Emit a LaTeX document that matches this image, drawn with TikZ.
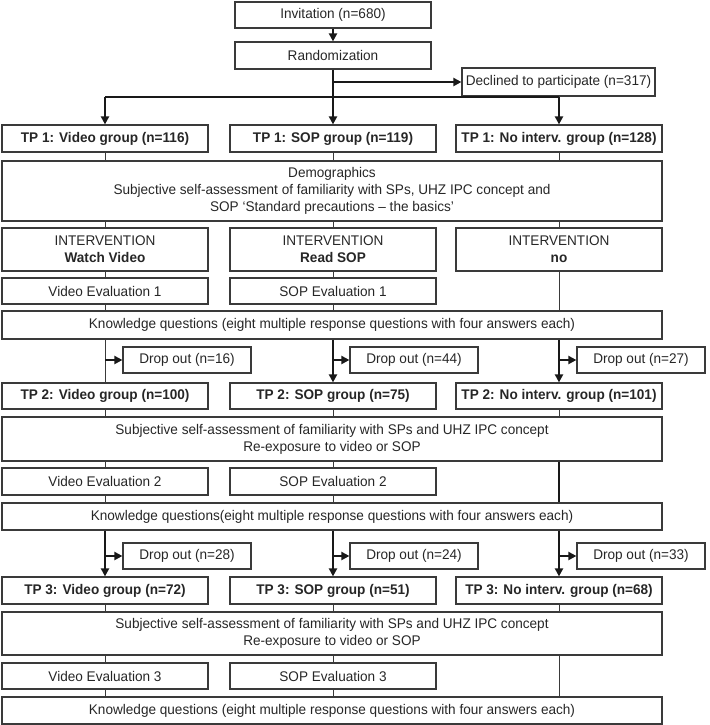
\documentclass[tikz,border=0pt]{standalone}
\usepackage{fontspec}
\setmainfont{Liberation Sans}[FakeStretch=0.97]
\usetikzlibrary{arrows.meta}
\definecolor{boxc}{HTML}{3A3A3A}
\definecolor{txtc}{HTML}{262626}
\begin{document}
\begin{tikzpicture}[x=1pt,y=-1pt,
  font=\fontsize{14}{17}\selectfont,
  box/.style={draw=boxc, line width=1.2pt, inner sep=0pt, align=center, text=txtc},
  bbox/.style={box, font=\fontsize{14}{17}\selectfont\bfseries},
  thin line/.style={draw=boxc, line width=0.9pt},
  thick line/.style={draw=black!90, line width=2.2pt},
  thick arrow/.style={thick line, -{Triangle[length=8pt,width=8pt]}},
]
\useasboundingbox (0,0) rectangle (709,725);
% top
\node[box, minimum width=196, minimum height=26] (inv) at (333,15) {Invitation (n=680)};
\node[box, minimum width=196, minimum height=27] (rand) at (333,55.5) {Randomization};
\node[box, minimum width=193, minimum height=28] (decl) at (558.5,82) {Declined to participate (n=317)};
% TP1
\node[bbox, minimum width=206, minimum height=27] (tp1l) at (105,138.5) {TP 1: Video group (n=116)};
\node[bbox, minimum width=206, minimum height=27] (tp1m) at (333,138.5) {TP 1: SOP group (n=119)};
\node[bbox, minimum width=206, minimum height=27] (tp1r) at (559,138.5) {TP 1: No interv. group (n=128)};
\node[box, minimum width=660, minimum height=60] (demo) at (332,191) {Demographics\\Subjective self-assessment of familiarity with SPs, UHZ IPC concept and\\SOP ‘Standard precautions – the basics’};
\node[box, minimum width=206, minimum height=43] (intl) at (105,249.5) {INTERVENTION\\\textbf{Watch Video}};
\node[box, minimum width=206, minimum height=43] (intm) at (333,249.5) {INTERVENTION\\\textbf{Read SOP}};
\node[box, minimum width=206, minimum height=43] (intr) at (559,249.5) {INTERVENTION\\\textbf{no}};
\node[box, minimum width=206, minimum height=26] (ev1l) at (105,291) {Video Evaluation 1};
\node[box, minimum width=206, minimum height=26] (ev1m) at (333,291) {SOP Evaluation 1};
\node[box, minimum width=660, minimum height=28] (kn1) at (332,325) {Knowledge questions (eight multiple response questions with four answers each)};
\node[box, minimum width=128, minimum height=26] (dr1l) at (187,360) {Drop out (n=16)};
\node[box, minimum width=128, minimum height=26] (dr1m) at (414,360) {Drop out (n=44)};
\node[box, minimum width=128, minimum height=26] (dr1r) at (641,360) {Drop out (n=27)};
% TP2
\node[bbox, minimum width=206, minimum height=26] (tp2l) at (105,396) {TP 2: Video group (n=100)};
\node[bbox, minimum width=206, minimum height=26] (tp2m) at (333,396) {TP 2: SOP group (n=75)};
\node[bbox, minimum width=206, minimum height=26] (tp2r) at (559,396) {TP 2: No interv. group (n=101)};
\node[box, minimum width=660, minimum height=44] (sub2) at (332,439) {Subjective self-assessment of familiarity with SPs and UHZ IPC concept\\Re-exposure to video or SOP};
\node[box, minimum width=206, minimum height=27] (ev2l) at (105,481.5) {Video Evaluation 2};
\node[box, minimum width=206, minimum height=27] (ev2m) at (333,481.5) {SOP Evaluation 2};
\node[box, minimum width=660, minimum height=27] (kn2) at (332,516.5) {Knowledge questions(eight multiple response questions with four answers each)};
\node[box, minimum width=128, minimum height=26] (dr2l) at (187,556) {Drop out (n=28)};
\node[box, minimum width=128, minimum height=26] (dr2m) at (414,556) {Drop out (n=24)};
\node[box, minimum width=128, minimum height=26] (dr2r) at (641,556) {Drop out (n=33)};
% TP3
\node[bbox, minimum width=206, minimum height=27] (tp3l) at (105,590.5) {TP 3: Video group (n=72)};
\node[bbox, minimum width=206, minimum height=27] (tp3m) at (333,590.5) {TP 3: SOP group (n=51)};
\node[bbox, minimum width=206, minimum height=27] (tp3r) at (559,590.5) {TP 3: No interv. group (n=68)};
\node[box, minimum width=660, minimum height=43] (sub3) at (332,633.5) {Subjective self-assessment of familiarity with SPs and UHZ IPC concept\\Re-exposure to video or SOP};
\node[box, minimum width=206, minimum height=26] (ev3l) at (105,676) {Video Evaluation 3};
\node[box, minimum width=206, minimum height=26] (ev3m) at (333,676) {SOP Evaluation 3};
\node[box, minimum width=660, minimum height=27] (kn3) at (332,710.5) {Knowledge questions (eight multiple response questions with four answers each)};
% connectors: top
\coordinate (hub) at (333,97);
\draw[thick arrow] (inv) -- (rand);
\draw[thick line] (rand.south) -- (hub);
\draw[thick arrow] (rand.south |- decl.west) -- (decl.west);
\draw[thick line] (tp1l.north |- hub) -- (tp1r.north |- hub);
\draw[thick arrow] (tp1l.north |- hub) -- (tp1l.north);
\draw[thick arrow] (hub) -- (tp1m.north);
\draw[thick arrow] (tp1r.north |- hub) -- (tp1r.north);
% TP1 block
\foreach \c in {l,m,r}{
  \draw[thin line] (tp1\c.south) -- (tp1\c.south |- demo.north);
  \draw[thin line] (int\c.north |- demo.south) -- (int\c.north);
  \draw[thin line] (tp2\c.south) -- (tp2\c.south |- sub2.north);
  \draw[thin line] (tp3\c.south) -- (tp3\c.south |- sub3.north);
}
\foreach \c in {l,m}{
  \draw[thin line] (int\c.south) -- (ev1\c.north);
  \draw[thin line] (ev1\c.south) -- (ev1\c.south |- kn1.north);
  \draw[thin line] (ev2\c.north |- sub2.south) -- (ev2\c.north);
  \draw[thin line] (ev2\c.south) -- (ev2\c.south |- kn2.north);
  \draw[thin line] (ev3\c.north |- sub3.south) -- (ev3\c.north);
  \draw[thin line] (ev3\c.south) -- (ev3\c.south |- kn3.north);
}
\draw[thin line] (intr.south) -- (intr.south |- kn1.north);
\draw[thick line] (tp2r.north |- sub2.south) -- (tp2r.north |- kn2.north);
\draw[thin line] (tp3r.north |- sub3.south) -- (tp3r.north |- kn3.north);
% Knowledge 1 -> TP2
\draw[thin line] (tp2l.north |- kn1.south) -- (tp2l.north);
\draw[thick arrow] (tp2m.north |- kn1.south) -- (tp2m.north);
\draw[thick arrow] (tp2r.north |- kn1.south) -- (tp2r.north);
\foreach \c in {l,m,r}{
  \draw[thick arrow] (tp2\c.north |- dr1\c.west) -- (dr1\c.west);
  \draw[thick arrow] (tp3\c.north |- kn2.south) -- (tp3\c.north);
  \draw[thick arrow] (tp3\c.north |- dr2\c.west) -- (dr2\c.west);
}
\end{tikzpicture}
\end{document}
